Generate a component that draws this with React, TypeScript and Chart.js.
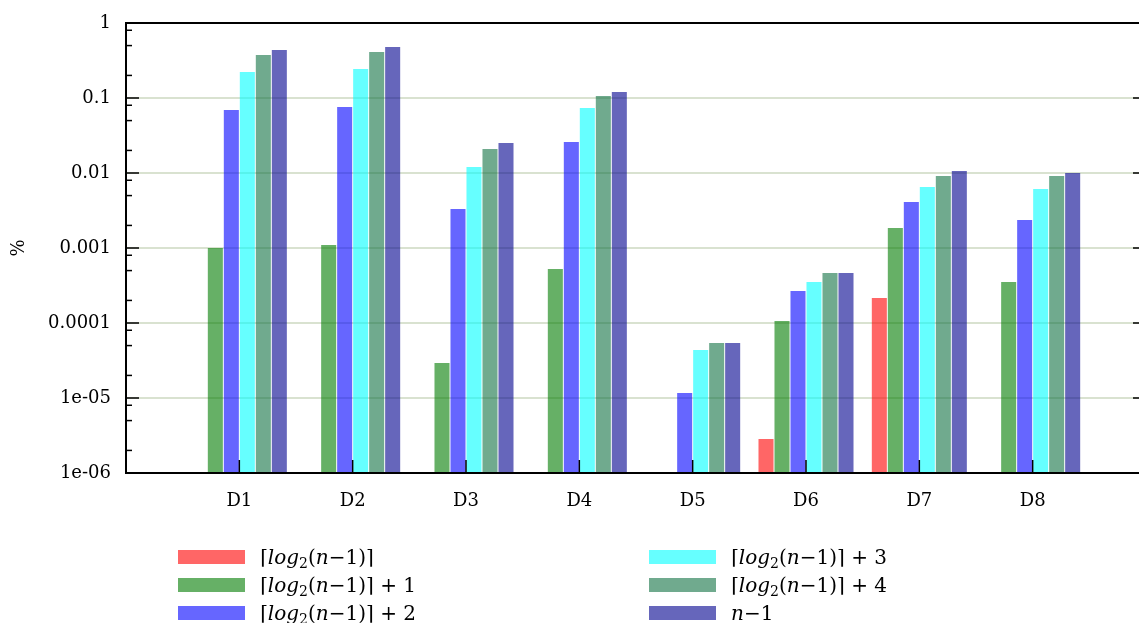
import React, { useEffect, useRef } from 'react';
import { Chart, registerables } from 'chart.js';

Chart.register(...registerables);

// Datasets on the x axis
const categories = ['D1', 'D2', 'D3', 'D4', 'D5', 'D6', 'D7', 'D8'];

// Series labels (log-depth variants)
const seriesLabels = [
  '⌈log₂(n−1)⌉',
  '⌈log₂(n−1)⌉ + 1',
  '⌈log₂(n−1)⌉ + 2',
  '⌈log₂(n−1)⌉ + 3',
  '⌈log₂(n−1)⌉ + 4',
  'n−1',
];

// Percentages per dataset (null = no bar)
const depthCeil = [null, null, null, null, null, 2.84e-6, 2.15e-4, null];
const depthPlus1 = [1.0e-3, 1.1e-3, 2.93e-5, 5.25e-4, null, 1.06e-4, 1.85e-3, 3.52e-4];
const depthPlus2 = [0.069, 0.076, 3.31e-3, 0.0259, 1.17e-5, 2.67e-4, 4.1e-3, 2.36e-3];
const depthPlus3 = [0.222, 0.244, 0.012, 0.0736, 4.37e-5, 3.52e-4, 6.5e-3, 6.1e-3];
const depthPlus4 = [0.374, 0.41, 0.0209, 0.106, 5.4e-5, 4.64e-4, 9.1e-3, 9.1e-3];
const depthFull = [0.436, 0.479, 0.0251, 0.12, 5.4e-5, 4.64e-4, 0.0106, 0.01];

const seriesValues = [depthCeil, depthPlus1, depthPlus2, depthPlus3, depthPlus4, depthFull];

const seriesColors = [
  'rgba(255,0,0,0.6)',
  'rgba(0,123,0,0.6)',
  'rgba(0,0,255,0.6)',
  'rgba(0,255,255,0.6)',
  'rgba(17,113,67,0.6)',
  'rgba(0,0,142,0.6)',
];

// Y axis decades and their labels
const yTickValues = [1, 0.1, 0.01, 0.001, 0.0001, 1e-5, 1e-6];
const yTickLabels = ['1', '0.1', '0.01', '0.001', '0.0001', '1e-05', '1e-06'];
const yMinorMantissas = [2, 5, 8];

const FONT = "'DejaVu Serif', serif";

const CANVAS_W = 1160;
const CANVAS_H = 623;
const PLOT_TOP = 23;
const PLOT_BOTTOM = 473;
const PLOT_LEFT = 126;
const PLOT_RIGHT = 1146;
const X_AXIS_H = 40;

// Frame, inward tick marks on left/right/bottom
const framePlugin = {
  id: 'frame',
  afterDatasetsDraw(chart: any) {
    const { ctx, chartArea: a, scales } = chart;
    const ys = scales.y;
    const xs = scales.x;
    const seg = (x1: number, y1: number, x2: number, y2: number) => {
      ctx.beginPath();
      ctx.moveTo(x1, y1);
      ctx.lineTo(x2, y2);
      ctx.stroke();
    };
    ctx.save();
    ctx.strokeStyle = '#000';
    ctx.lineWidth = 1.5;
    for (const v of yTickValues) {
      const py = ys.getPixelForValue(v);
      seg(a.left, py, a.left + 13, py);
      seg(a.right - 13, py, a.right, py);
    }
    for (let e = -6; e < 0; e++) {
      for (const m of yMinorMantissas) {
        const py = ys.getPixelForValue(m * Math.pow(10, e));
        seg(a.left, py, a.left + 6, py);
      }
    }
    categories.forEach((_, i) => {
      const px = xs.getPixelForValue(i + 1);
      seg(px, a.bottom - 13, px, a.bottom);
    });
    ctx.lineWidth = 2;
    ctx.strokeRect(a.left, a.top, a.right - a.left, a.bottom - a.top);
    ctx.restore();
  },
};

function MathLabel({ text }: { text: string }) {
  const parts: React.ReactNode[] = [];
  let buf = '';
  let italic = false;
  const flush = (k: number) => {
    if (!buf) return;
    parts.push(italic ? <i key={k}>{buf}</i> : <span key={k}>{buf}</span>);
    buf = '';
  };
  let k = 0;
  for (const ch of text) {
    if (ch === '₂') {
      flush(k++);
      parts.push(
        <sub key={k++} style={{ fontSize: '0.7em', verticalAlign: '-0.3em', lineHeight: 0 }}>
          2
        </sub>
      );
      continue;
    }
    const isLetter = /[a-z]/.test(ch);
    if (isLetter !== italic) {
      flush(k++);
      italic = isLetter;
    }
    buf += ch;
  }
  flush(k++);
  return <>{parts}</>;
}

export default function App() {
  const canvasRef = useRef<HTMLCanvasElement>(null);

  useEffect(() => {
    const canvas = canvasRef.current;
    if (!canvas) return;
    const chart = new Chart(canvas, {
      type: 'bar',
      data: {
        datasets: seriesValues.map((vals, s) => ({
          label: seriesLabels[s],
          data: vals.map((v, i) => ({ x: i + 1, y: v })),
          backgroundColor: seriesColors[s],
          borderWidth: 0,
          categoryPercentage: 0.847,
          barPercentage: 0.94,
        })),
      },
      options: {
        responsive: false,
        animation: false,
        devicePixelRatio: 1,
        layout: {
          padding: {
            left: 0,
            right: CANVAS_W - PLOT_RIGHT,
            top: PLOT_TOP,
            bottom: CANVAS_H - PLOT_BOTTOM - X_AXIS_H,
          },
        },
        plugins: {
          legend: { display: false },
          tooltip: { enabled: false },
          title: { display: false },
        },
        scales: {
          x: {
            type: 'linear',
            min: 0,
            max: 9,
            offset: false,
            grid: { display: false, drawTicks: false },
            border: { display: false },
            afterBuildTicks: (scale: any) => {
              scale.ticks = categories.map((_, i) => ({ value: i + 1 }));
            },
            afterFit: (scale: any) => {
              scale.height = X_AXIS_H;
            },
            ticks: {
              autoSkip: false,
              maxRotation: 0,
              padding: 18,
              color: '#000',
              font: { family: FONT, size: 18 },
              callback: (v: any) => categories[Number(v) - 1] ?? '',
            },
          },
          y: {
            type: 'logarithmic',
            min: 1e-6,
            max: 1,
            grid: {
              drawTicks: false,
              lineWidth: 2,
              color: (c: any) =>
                c.tick && (c.tick.value === 1 || c.tick.value === 1e-6) ? 'rgba(0,0,0,0)' : '#d9e2d0',
            },
            border: { display: false },
            afterBuildTicks: (scale: any) => {
              scale.ticks = yTickValues.map((v) => ({ value: v }));
            },
            afterFit: (scale: any) => {
              scale.width = PLOT_LEFT;
            },
            ticks: {
              autoSkip: false,
              padding: 15,
              color: '#000',
              font: { family: FONT, size: 18 },
              callback: (v: any) => {
                const idx = yTickValues.findIndex((t) => Math.abs(t - Number(v)) < t * 1e-6);
                return idx >= 0 ? yTickLabels[idx] : '';
              },
            },
            title: {
              display: true,
              text: '%',
              color: '#000',
              font: { family: FONT, size: 18 },
              padding: { top: 9, bottom: 0 },
            },
          },
        },
      },
      plugins: [
        framePlugin,
        {
          id: 'pinArea',
          // keep the plot rectangle at a fixed place regardless of label overflow
          afterLayout(chart: any) {
            const a = chart.chartArea;
            if (a.top !== PLOT_TOP) {
              a.top = PLOT_TOP;
              a.height = a.bottom - a.top;
              const y = chart.scales.y;
              y.top = PLOT_TOP;
              y.height = y.bottom - y.top;
              y.configure();
            }
          },
        },
      ],
    });
    return () => chart.destroy();
  }, []);

  const legendCols = [178, 649];

  return (
    <div
      style={{
        position: 'fixed',
        left: 0,
        top: 0,
        width: 1139,
        height: 623,
        overflow: 'hidden',
        background: '#fff',
      }}
    >
      <canvas ref={canvasRef} width={CANVAS_W} height={CANVAS_H} style={{ display: 'block' }} />
      {seriesLabels.map((lab, s) => {
        const col = Math.floor(s / 3);
        const row = s % 3;
        return (
          <div
            key={s}
            style={{
              position: 'absolute',
              left: legendCols[col],
              top: 543 + row * 28,
              height: 28,
              display: 'flex',
              alignItems: 'center',
              fontFamily: FONT,
              fontSize: 20,
              color: '#000',
              whiteSpace: 'pre',
            }}
          >
            <span
              style={{
                display: 'inline-block',
                width: 67,
                height: 14,
                background: seriesColors[s],
                marginRight: 15,
              }}
            />
            <span>
              <MathLabel text={lab} />
            </span>
          </div>
        );
      })}
    </div>
  );
}
